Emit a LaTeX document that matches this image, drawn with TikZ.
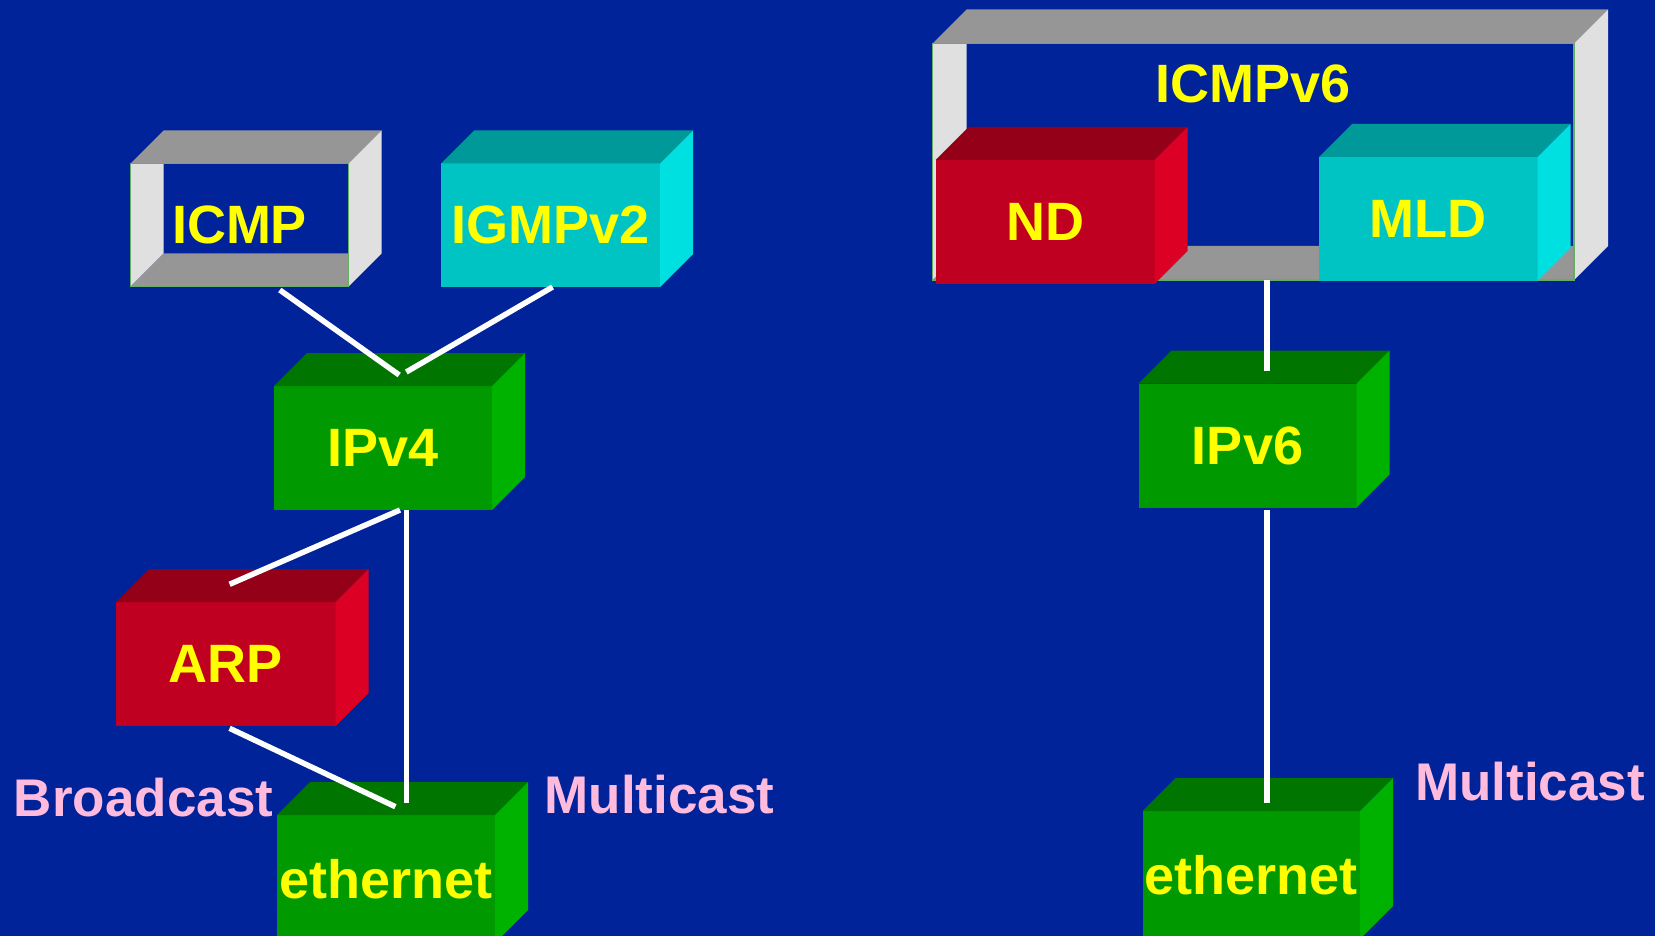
\documentclass[tikz,border=0pt]{standalone}
\usepackage{fontspec}
\setmainfont{Liberation Sans}
\definecolor{bgblue}{RGB}{0,35,153}
\definecolor{gfront}{RGB}{0,153,0}
\definecolor{gtop}{RGB}{0,117,0}
\definecolor{gside}{RGB}{0,178,0}
\definecolor{cfront}{RGB}{0,196,196}
\definecolor{ctop}{RGB}{0,153,153}
\definecolor{cside}{RGB}{0,224,224}
\definecolor{rfront}{RGB}{192,0,32}
\definecolor{rtop}{RGB}{148,0,24}
\definecolor{rside}{RGB}{221,0,37}
\definecolor{fgray}{RGB}{150,150,150}
\definecolor{flight}{RGB}{224,224,224}
\definecolor{fedge}{RGB}{100,175,100}
\definecolor{lblyellow}{RGB}{255,255,0}
\definecolor{lblpink}{RGB}{255,187,221}
\tikzset{
  boxfront/.style={rectangle, anchor=north west, inner sep=0pt, outer sep=0pt,
    text=lblyellow, font=\fontsize{54}{54}\selectfont\bfseries},
  framefront/.style={rectangle, anchor=north west, inner sep=0pt, outer sep=0pt,
    draw=fedge, line width=1.6pt, text=lblyellow, font=\fontsize{54}{54}\selectfont\bfseries},
  caption/.style={text=lblpink, inner sep=0pt, font=\fontsize{53}{53}\selectfont\bfseries},
  biglabel/.style={text=lblyellow, inner sep=0pt, font=\fontsize{54}{54}\selectfont\bfseries},
  wire/.style={draw=white, line width=5.5pt}
}
% name, x, y, w, h, front, top, side, label
\newcommand{\mkcube}[9]{%
  \node[boxfront, fill=#6, minimum width=#4pt, minimum height=#5pt] (#1) at (#2,#3) {#9};
  \fill[#7] (#1.north west) -- ++(33,-33) -- ++(#4,0) -- (#1.north east) -- cycle;
  \fill[#8] (#1.north east) -- ++(33,-33) -- ++(0,#5) -- (#1.south east) -- cycle;
}
% name, x, y, w, h, depth, label
\newcommand{\mkframe}[7]{%
  \fill[fgray] (#2,#3) -- ++(#6,-#6) -- ++(#4,0) -- ++(-#6,#6) -- cycle;
  \fill[flight] (#2,#3) ++(#4,0) -- ++(#6,-#6) -- ++(0,#5) -- ++(-#6,#6) -- cycle;
  \fill[flight] (#2,#3) -- ++(#6,0) -- ++(0,#5-#6) -- ++(-#6,#6) -- cycle;
  \fill[fgray] (#2,#3) ++(0,#5) -- ++(#6,-#6) -- ++(#4-#6,0) -- ++(0,#6) -- cycle;
  \node[framefront, minimum width=#4pt, minimum height=#5pt] (#1) at (#2,#3) {#7};
}
\begin{document}
\begin{tikzpicture}[x=1pt,y=-1pt]
\useasboundingbox (0,0) rectangle (1655,936);
\clip (0,0) rectangle (1655,936);
\fill[bgblue] (0,0) rectangle (1655,936);

% left stack
\mkframe{icmp}{130.5}{163.5}{218}{123}{33}{ICMP}
\mkcube{igmp}{441}{163.5}{219}{123.5}{cfront}{ctop}{cside}{IGMPv2}
\mkcube{ipv4}{274}{386}{218}{124}{gfront}{gtop}{gside}{IPv4}
\mkcube{arp}{116}{602}{219.5}{124}{rfront}{rtop}{rside}{ARP}
\mkcube{ethl}{277}{815}{218}{128}{gfront}{gtop}{gside}{ethernet}
\node[caption] (bcast) at (143.6,797.5) {Broadcast};
\node[caption] (mcastl) at (659.5,795) {Multicast};

% right stack
\mkframe{icmpsix}{932.5}{43.5}{641.5}{236.5}{34}{}
\node[biglabel] (icmpsixlbl) at (1253,83.5) {ICMPv6};
\mkcube{nd}{935.5}{160}{219}{124}{rfront}{rtop}{rside}{ND}
\mkcube{mld}{1319}{157}{218.5}{124}{cfront}{ctop}{cside}{MLD}
\mkcube{ipv6}{1138.5}{383.5}{218}{124}{gfront}{gtop}{gside}{IPv6}
\mkcube{ethr}{1142.5}{811}{217.5}{128}{gfront}{gtop}{gside}{ethernet}
\node[caption] (mcastr) at (1530,782) {Multicast};

% connector end points
\coordinate (icmpB) at (279.8,290);
\coordinate (ipvfourA) at (399.2,375);
\coordinate (igmpB) at (552.6,287);
\coordinate (ipvfourB) at (406.3,372);
\coordinate (ipvfourC) at (400,510);
\coordinate (arpT) at (229.6,584.3);
\coordinate (ipvfourD) at (406.6,510);
\coordinate (ethlA) at (406.6,803.3);
\coordinate (arpB) at (229.6,728.3);
\coordinate (ethlB) at (395.4,806.7);
\coordinate (icmpsixB) at (1267,280);
\coordinate (ipvsixT) at (1267,371);
\coordinate (ipvsixB) at (1267,510);
\coordinate (ethrT) at (1267,803);

\draw[wire] (icmpB) -- (ipvfourA);
\draw[wire] (igmpB) -- (ipvfourB);
\draw[wire] (ipvfourC) -- (arpT);
\draw[wire] (ipvfourD) -- (ethlA);
\draw[wire] (arpB) -- (ethlB);
\draw[wire] (icmpsixB) -- (ipvsixT);
\draw[wire] (ipvsixB) -- (ethrT);
\end{tikzpicture}
\end{document}
